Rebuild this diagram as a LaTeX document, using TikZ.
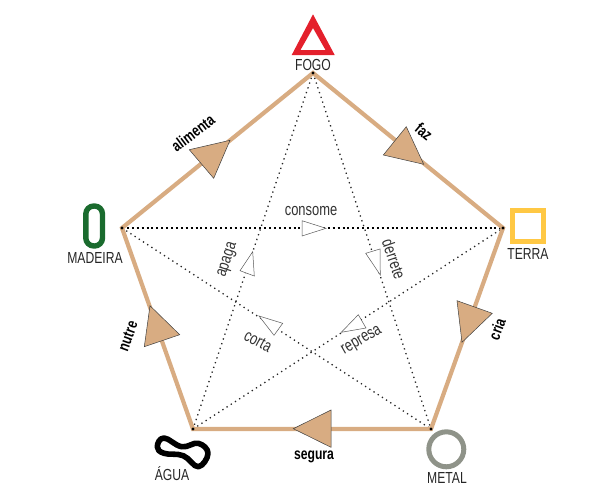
\documentclass[tikz,border=0pt]{standalone}
\usepackage{fontspec}
\setmainfont[FakeStretch=0.76]{Liberation Sans}
\definecolor{tan}{HTML}{D8AC82}
\definecolor{fogored}{HTML}{E4202C}
\definecolor{woodgreen}{HTML}{1A6B2E}
\definecolor{earthyellow}{HTML}{FFC844}
\definecolor{metalgray}{HTML}{8F9389}
\tikzset{
  x=1pt,y=-1pt,
  cycleline/.style={draw=tan,line width=4.2pt,line cap=butt,line join=miter},
  fineline/.style={draw=black!85,line width=1.3pt,dash pattern=on 1.3pt off 3.7pt},
  boldline/.style={draw=black,line width=2pt,dash pattern=on 2pt off 2.9pt},
  bigtri/.style={draw=black!75,line width=0.5pt,fill=tan,line join=miter},
  smalltri/.style={draw=black!65,line width=0.5pt,fill=white,line join=miter},
  elemlabel/.style={font=\fontsize{16}{18}\selectfont,text=black!85,inner sep=0pt},
  verblabel/.style={font=\fontsize{16}{18}\selectfont\bfseries,text=black,inner sep=0pt},
  ctrllabel/.style={font=\fontsize{17}{19}\selectfont,text=black!80,inner sep=0pt},
  vdot/.style={circle,fill=black,inner sep=0pt,minimum size=3.4pt},
}
\begin{document}
\begin{tikzpicture}
\useasboundingbox (0,0) rectangle (600,501);
% vertices
\coordinate (F) at (313,73);
\coordinate (M) at (122,228);
\coordinate (T) at (503,228);
\coordinate (A) at (193,429);
\coordinate (E) at (431,429);
% star
\draw[fineline] (F) -- (A);
\draw[fineline] (F) -- (E);
\draw[fineline] (M) -- (E);
\draw[fineline] (A) -- (T);
\draw[boldline] (M) -- (T);
% pentagon
\draw[cycleline] (F) -- (T) -- (E) -- (A) -- (M) -- cycle;
\foreach \v in {F,M,T,A,E} \node[vdot] at (\v) {};
% big triangles
\draw[bigtri] (189.3,149.7) -- (230,140.3) -- (213.7,178.3) -- cycle;
\draw[bigtri] (406.3,126.7) -- (383.3,155) -- (423.7,164.3) -- cycle;
\draw[bigtri] (457,300.7) -- (492.3,313.3) -- (462,342.3) -- cycle;
\draw[bigtri] (293.3,428.7) -- (331,410) -- (331,447.3) -- cycle;
\draw[bigtri] (150,305.7) -- (179.7,334.7) -- (144.3,346.7) -- cycle;
% small triangles
\draw[smalltri] (302,220.7) -- (326,228.3) -- (302,236) -- cycle;
\draw[smalltri] (252.7,251.7) -- (240,270.7) -- (254.3,276) -- cycle;
\draw[smalltri] (365.7,253.3) -- (380,249) -- (380.3,275) -- cycle;
\draw[smalltri] (358.3,314.7) -- (366,328) -- (341.3,332.3) -- cycle;
\draw[smalltri] (259,316) -- (282.7,323.3) -- (274,335.3) -- cycle;
% element icons
\fill[fogored,even odd rule] (313,14.3) -- (291.7,55) -- (334.7,55) -- cycle (313,28) -- (300.5,50) -- (325.5,50) -- cycle;
\draw[woodgreen,line width=5.4pt,rounded corners=8pt] (85.8,206) rectangle (102.5,246);
\draw[earthyellow,line width=5.4pt] (512.7,210.7) rectangle (543.6,241.3);
\draw[metalgray,line width=5pt] (446.3,449.3) circle (17.5);
\draw[black,line width=5.6pt,line join=round] plot[smooth cycle,tension=0.7] coordinates
  {(157.3,446.7) (164,438) (181.7,446.7) (198.3,443.3) (208,453.3) (198.3,466.7) (183.3,455.7) (164,453.3)};
% element labels
\node[elemlabel] (fogo) at (313,65) {FOGO};
\node[elemlabel] (madeira) at (95,258) {MADEIRA};
\node[elemlabel] (terra) at (528,254) {TERRA};
\node[elemlabel] (metal) at (447,478) {METAL};
\node[elemlabel] (agua) at (172,474) {ÁGUA};
% generation verbs
\node[verblabel,rotate=37] (alimenta) at (193,133) {alimenta};
\node[verblabel,rotate=-40] (faz) at (424,132) {faz};
\node[verblabel,rotate=70] (cria) at (497,329) {cria};
\node[verblabel] (segura) at (314,457) {segura};
\node[verblabel,rotate=70] (nutre) at (128,336) {nutre};
% control verbs
\node[ctrllabel] (consome) at (311,211) {consome};
\node[ctrllabel,rotate=72] (apaga) at (228,260) {apaga};
\node[ctrllabel,rotate=-71] (derrete) at (394,259) {derrete};
\node[ctrllabel,rotate=30] (represa) at (362,341) {represa};
\node[ctrllabel,rotate=-28] (corta) at (258,341) {corta};
\end{tikzpicture}
\end{document}
